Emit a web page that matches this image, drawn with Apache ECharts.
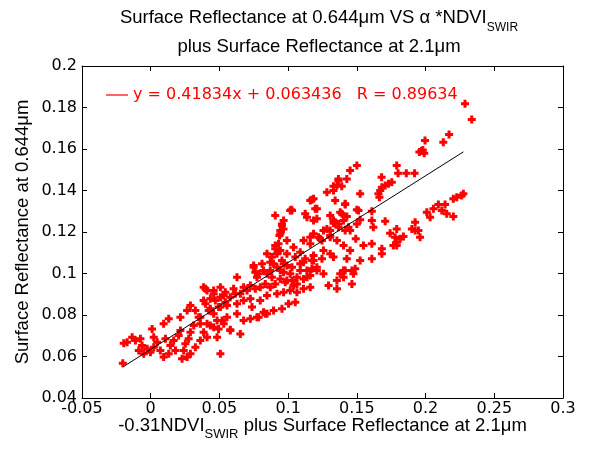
<!DOCTYPE html>
<html><head><meta charset="utf-8">
<script src="https://cdn.jsdelivr.net/npm/echarts@6/dist/echarts.min.js"></script>
<style>html,body{margin:0;padding:0;background:#fff}#c{width:593px;height:453px}</style>
</head><body><div id="c"></div>
<script>
const xTicks = [-0.05, 0, 0.05, 0.1, 0.15, 0.2, 0.25, 0.3];
const yTicks = [0.04, 0.06, 0.08, 0.1, 0.12, 0.14, 0.16, 0.18, 0.2];
const fitSlope = 0.41834;
const fitIntercept = 0.063436;
const fitR = 0.89634;
const fitXRange = [-0.0203, 0.2275];
const scatterPoints = [
[0.2287,0.1818],[0.2336,0.1742],[0.2171,0.167],[0.2129,0.1633],[0.1996,0.1641],[0.197,0.159],[0.199,0.158],[0.198,0.1595],[0.1955,0.1585],
[0.179,0.152],[0.180,0.1483],[0.186,0.1483],[0.192,0.1483],[0.168,0.1464],[0.1754,0.144],[0.173,0.1432],[0.1706,0.1424],[0.1682,0.1416],
[0.167,0.14],[0.1657,0.1384],[0.1664,0.1368],[0.1524,0.1384],[0.15,0.152],[0.1451,0.1496],[0.1427,0.1456],[0.1366,0.1456],[0.133,0.142],
[0.139,0.142],[0.1342,0.1352],[0.1415,0.1333],[0.1379,0.1295],[0.1427,0.1275],[0.15,0.1307],[0.1609,0.13],[0.133,0.1242],[0.1415,0.1207],
[0.1524,0.1259],[0.1609,0.1255],[0.162,0.1223],[0.1706,0.1252],[0.1306,0.1175],[0.1355,0.1159],[0.1403,0.1135],[0.1451,0.1111],[0.1492,0.1167],
[0.1548,0.1135],[0.1609,0.1143],[0.1682,0.1119],[0.1682,0.1095],[0.1609,0.1071],[0.1524,0.1063],[0.1427,0.1071],[0.133,0.1079],[0.1379,0.0999],
[0.1415,0.1014],[0.1475,0.0999],[0.1488,0.1023],[0.1742,0.1194],[0.1778,0.1175],[0.179,0.1151],[0.1815,0.1167],[0.1839,0.1178],[0.179,0.1135],
[0.1766,0.1135],[0.1924,0.1247],[0.1948,0.1207],[0.196,0.1175],[0.1924,0.1207],[0.19,0.1215],[0.2009,0.1295],[0.2033,0.1271],[0.2057,0.1312],
[0.2093,0.1333],[0.2118,0.1304],[0.2142,0.1333],[0.2154,0.1288],[0.2202,0.1275],[0.2202,0.136],[0.2227,0.1368],[0.2263,0.1376],[0.2275,0.1384],
[0.179,0.1215],
[0.1282,0.1392],[0.1173,0.1355],[0.1028,0.1304],[0.1197,0.1312],[0.1124,0.1288],[0.1137,0.1271],[0.1391,0.1288],[0.0955,0.1239],[0.0966,0.1215],
[0.1185,0.1255],[0.1209,0.1264],[0.1366,0.1239],[0.1403,0.1255],[0.1282,0.1215],[0.1306,0.1207],[0.1451,0.1207],[0.1185,0.1191],[0.1221,0.1175],
[0.1246,0.1159],[0.1161,0.1175],[0.1112,0.1159],[0.0991,0.1159],[0.1039,0.1127],[0.1088,0.1103],[0.0991,0.1095],[0.0943,0.1111],[0.1052,0.1079],
[0.1124,0.1071],[0.1185,0.1087],[0.1257,0.1111],[0.1306,0.1095],[0.1246,0.1071],[0.0967,0.1047],[0.1028,0.103],[0.1088,0.1014],[0.1173,0.1023],
[0.1173,0.1063],[0.1112,0.1054],[0.1015,0.0999],[0.1064,0.0982],[0.0943,0.1014],[0.0991,0.0966],[0.1039,0.0942],[0.1137,0.0982],[0.1209,0.1014],
[0.1257,0.0999],[0.1403,0.1014],[0.1464,0.1014],[0.1403,0.0982],[0.1355,0.0966],[0.1355,0.0926],[0.1294,0.0942],[0.1464,0.095],
[0.0955,0.1231],[0.0943,0.1191],[0.093,0.1143],[0.0906,0.1135],[0.0906,0.1119],[0.0882,0.1079],[0.0846,0.1095],[0.087,0.1054],[0.081,0.1047],
[0.0821,0.1014],[0.0785,0.0999],[0.0749,0.1039],[0.0761,0.1006],[0.0846,0.0999],[0.0919,0.103],[0.0955,0.1063],[0.0991,0.1039],[0.0967,0.1006],
[0.1088,0.1047],[0.1137,0.1014],[0.1161,0.099],[0.1185,0.1063],[0.1209,0.103],[0.1112,0.0974],[0.1064,0.095],[0.1028,0.0966],[0.0979,0.0958],
[0.0943,0.0974],[0.0906,0.095],[0.087,0.0934],[0.0834,0.095],[0.0797,0.0934],[0.0761,0.0926],[0.0725,0.0942],[0.0701,0.0918],[0.0652,0.0902],
[0.0603,0.0926],[0.0579,0.0886],[0.0543,0.091],[0.0507,0.0886],[0.047,0.087],[0.0458,0.0918],[0.0398,0.0926],[0.0385,0.087],[0.0434,0.083],
[0.0494,0.0838],[0.0555,0.0846],[0.0628,0.0854],[0.0676,0.087],[0.0725,0.0878],[0.0737,0.0838],[0.0797,0.087],[0.0846,0.0894],[0.0919,0.0902],
[0.0967,0.091],[0.1015,0.0918],[0.1064,0.091],[0.1112,0.0926],[0.1161,0.0934],[0.0361,0.0789],[0.041,0.0758],[0.0458,0.0741],[0.0519,0.0773],
[0.0579,0.0725],[0.0628,0.0806],[0.0676,0.0773],[0.0725,0.0782],[0.0785,0.0789],[0.0834,0.0806],[0.0894,0.0822],[0.0955,0.083],[0.1003,0.0854],
[0.1052,0.0862],
[-0.0203,0.0568],[-0.0196,0.0664],[-0.0172,0.0669],[-0.0135,0.0693],[-0.0111,0.0677],[-0.0075,0.0685],[-0.0063,0.0653],[-0.0087,0.0629],
[-0.0051,0.0613],[-0.0026,0.0637],[-0.0002,0.0621],[0.0022,0.0645],[0.0047,0.0669],[0.001,0.0733],[0.0022,0.0693],[0.0094,0.0758],[0.0131,0.0782],
[0.0107,0.0685],[0.0143,0.0653],[0.007,0.0629],[0.0094,0.0597],[0.0131,0.0613],[0.018,0.0629],[0.0167,0.0677],[0.0203,0.0701],[0.0216,0.0725],
[0.0228,0.0589],[0.024,0.0629],[0.0252,0.0661],[0.0276,0.0685],[0.0289,0.0717],[0.0313,0.0749],[0.0216,0.0789],[0.0265,0.0822],[0.0289,0.0846],
[0.0325,0.0822],[0.0349,0.0789],[0.0361,0.0758],[0.0385,0.0717],[0.0398,0.0854],[0.0422,0.0822],[0.0434,0.0878],[0.041,0.0918],[0.0385,0.0934],
[0.0458,0.0902],[0.0507,0.0934],[0.0531,0.0894],[0.0543,0.0862],[0.0507,0.0838],[0.0458,0.0806],[0.0483,0.0773],[0.0434,0.0749],[0.041,0.0693],
[0.0361,0.0677],[0.0325,0.0645],[0.0289,0.0613],[0.0265,0.0597],[0.0494,0.0733],[0.0531,0.0758],[0.0555,0.0789],[0.0507,0.0613],[0.0483,0.0693],
[0.0652,0.0709],[0.0579,0.0729],[0.0773,0.0789],[0.0821,0.0813],[0.0846,0.0806],[0.0906,0.128],[0.0943,0.1207],[0.0967,0.1255],[0.1015,0.1304],
[0.1161,0.1352],[0.1185,0.136],[0.1209,0.1312],[0.1355,0.1424],[0.1366,0.1448],[0.133,0.14],[0.1306,0.128],[0.1257,0.1207],[0.133,0.1255],
[0.1366,0.1223],[0.1233,0.1167],[0.1161,0.1143],[0.0919,0.1095],[0.0894,0.1047],[0.087,0.1014],[0.0882,0.0982],[0.0749,0.103],[0.0773,0.0982],
[0.0628,0.0982],[0.0616,0.0902],[0.0676,0.0934],
[0.0937,0.1183],[0.1022,0.1307],[0.1415,0.1336],[0.1342,0.1247],[0.1306,0.1183],[0.1439,0.1223],[0.15,0.1239],[0.1512,0.1304]
];

const fitLine = fitXRange.map(x => [x, fitSlope * x + fitIntercept]);
const legendName = 'y = 0.41834x + 0.063436   R = ' + fitR;

const sans = 'Liberation Sans';
const tickFont = 'DejaVu Sans';
const subStyle = {fontSize: 12, fontFamily: sans, color: '#000', lineHeight: 12, padding: [20, 0, 0, 0]};

const chart = echarts.init(document.getElementById('c'), null, {renderer: 'canvas'});
const xBase = {type: 'value', min: xTicks[0], max: xTicks[xTicks.length - 1], interval: 0.05,
  splitLine: {show: false}, axisLine: {onZero: false, lineStyle: {color: '#000', width: 1}},
  axisTick: {inside: true, length: 5, lineStyle: {color: '#000'}}};
const yBase = {type: 'value', min: yTicks[0], max: yTicks[yTicks.length - 1], interval: 0.02,
  splitLine: {show: false}, axisLine: {onZero: false, lineStyle: {color: '#000', width: 1}},
  axisTick: {inside: true, length: 5, lineStyle: {color: '#000'}}};

chart.setOption({
  animation: false,
  backgroundColor: '#fff',
  title: {
    text: 'Surface Reflectance at 0.644μm VS α *NDVI{sub|SWIR}\nplus Surface Reflectance at 2.1μm',
    left: 319, top: 3, padding: 0, textAlign: 'center',
    textStyle: {fontFamily: sans, fontSize: 18.5, fontWeight: 'normal', color: '#000', lineHeight: 29,
      rich: {sub: subStyle}}
  },
  legend: {
    left: 106, top: 87, padding: 0,
    data: [{name: legendName, icon: 'rect', itemStyle: {color: '#ff0000'}}],
    itemWidth: 22, itemHeight: 1.2,
    textStyle: {fontFamily: tickFont, fontSize: 16, color: '#ff0000'}
  },
  grid: {left: 82, right: 30, top: 66, bottom: 55, containLabel: false, outerBoundsMode: 'none'},
  xAxis: [
    Object.assign({}, xBase, {position: 'bottom',
      axisLabel: {fontFamily: tickFont, fontSize: 16, color: '#000', margin: 3},
      name: '-0.31NDVI{sub|SWIR} plus Surface Reflectance at 2.1μm', nameLocation: 'middle', nameGap: 18,
      nameMoveOverlap: false,
      nameTextStyle: {fontFamily: sans, fontSize: 18.5, color: '#000', rich: {sub: {fontSize: 13, fontFamily: sans, color: '#000', lineHeight: 13, padding: [18, 0, 0, 0]}}}}),
    Object.assign({}, xBase, {position: 'top', axisLabel: {show: false}})
  ],
  yAxis: [
    Object.assign({}, yBase, {position: 'left',
      axisLabel: {fontFamily: tickFont, fontSize: 16, color: '#000', margin: 5},
      name: 'Surface Reflectance at 0.644μm', nameLocation: 'middle', nameGap: 50,
      nameMoveOverlap: false,
      nameTextStyle: {fontFamily: sans, fontSize: 18.5, color: '#000'}}),
    Object.assign({}, yBase, {position: 'right', axisLabel: {show: false}})
  ],
  series: [
    {type: 'scatter', name: 'data', data: scatterPoints, xAxisIndex: 0, yAxisIndex: 0,
      symbol: 'path://M2.5,0h3v2.5h2.5v3h-2.5v2.5h-3v-2.5h-2.5v-3h2.5z', symbolSize: 8,
      itemStyle: {color: '#ff0000', opacity: 1}, silent: true},
    {type: 'line', name: legendName, data: fitLine, xAxisIndex: 0, yAxisIndex: 0,
      showSymbol: false, symbol: 'none', lineStyle: {color: '#000', width: 1}, silent: true}
  ]
});
</script></body></html>
